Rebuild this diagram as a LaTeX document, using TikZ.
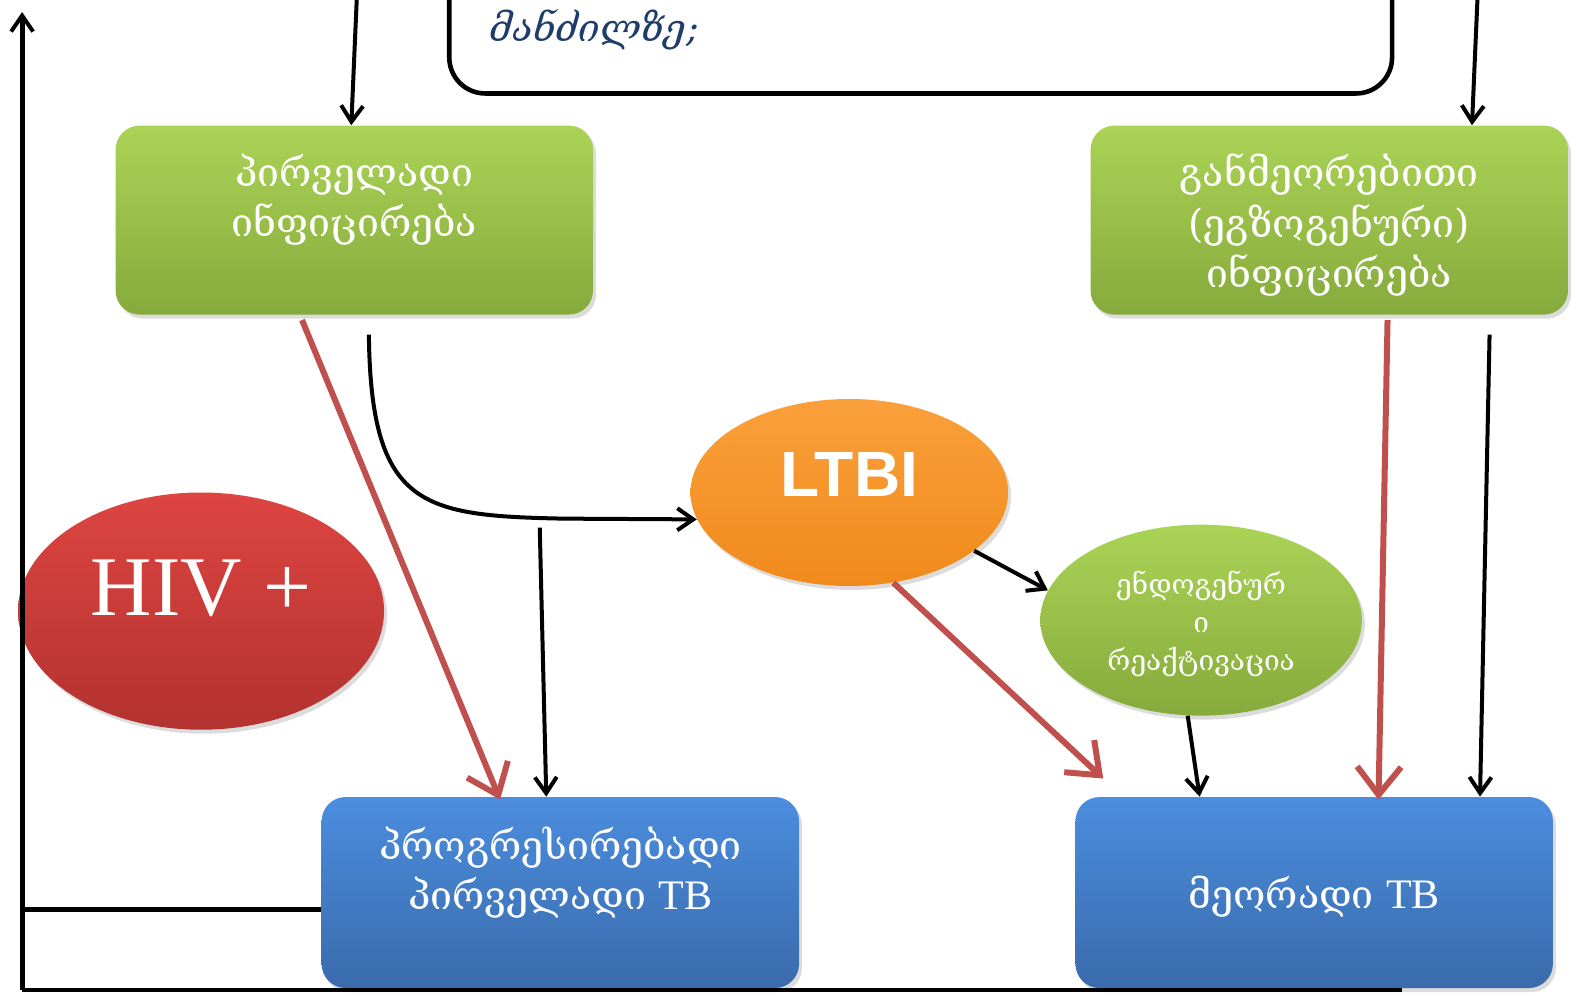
\documentclass[tikz,border=0pt]{standalone}
\usepackage{fontspec}
\setmainfont{Liberation Serif}
\newfontfamily\geo{DejaVu Serif}
\newfontfamily\arl{Liberation Sans}
\usetikzlibrary{arrows.meta,shapes.geometric,shadows,calc}
\definecolor{grT}{HTML}{ABD356}
\definecolor{grB}{HTML}{86AA3C}
\definecolor{blT}{HTML}{4B8DDE}
\definecolor{blB}{HTML}{3A6BAB}
\definecolor{rdT}{HTML}{DD4541}
\definecolor{rdB}{HTML}{B3322F}
\definecolor{orT}{HTML}{FAA03A}
\definecolor{orB}{HTML}{F08A1C}
\definecolor{redarrow}{HTML}{C0504D}
\definecolor{navytext}{HTML}{1F3D6B}
\tikzset{
  shad/.style={drop shadow={opacity=0.28,shadow xshift=1.5pt,shadow yshift=-2pt}},
  gbox/.style={rectangle,rounded corners=12pt,minimum width=238.7pt,minimum height=94.5pt,inner sep=0pt,top color=grT,bottom color=grB,shad},
  bbox/.style={rectangle,rounded corners=12pt,minimum width=238.7pt,minimum height=95.5pt,inner sep=0pt,top color=blT,bottom color=blB,shad},
  ell/.style={ellipse,inner sep=0pt,shad},
  wtext/.style={text=white,align=center,font=\geo\fontsize{19.6pt}{25.1pt}\selectfont},
  blk/.style={draw=black,line width=2pt,-{Straight Barb[length=8pt,width=11pt,line width=2pt]}},
  red/.style={draw=redarrow,line width=3pt,-{Straight Barb[length=14pt,width=22pt,line width=3pt]}},
  frame/.style={draw=black,line width=2.4pt}
}
\begin{document}
\begin{tikzpicture}[x=0.50255pt,y=-0.50255pt]
\useasboundingbox (0,0) rectangle (1568,990);
% top box (cut off)
\draw[line width=2.3pt,rounded corners=18pt] (447,-80) rectangle (1385,93);
\node[anchor=west,text=navytext,font=\geo\itshape\fontsize{19pt}{22pt}\selectfont] (toptext) at (480,30) {მანძილზე;};
% nodes
\node[gbox] (inf1) at (352.5,219) {};
\node[wtext] (inf1t) at (352.5,199) {პირველადი\\ინფიცირება};
\node[gbox] (inf2) at (1322.5,219) {};
\node[wtext] (inf2t) at (1322.5,224) {განმეორებითი\\(ეგზოგენური)\\ინფიცირება};
\node[bbox] (tb1) at (557.5,888) {};
\node[wtext] (tb1t) at (557.5,868) {პროგრესირებადი\\პირველადი {\rmfamily\fontsize{21pt}{25pt}\selectfont TB}};
\node[bbox] (tb2) at (1307.5,888) {};
\node[wtext] (tb2t) at (1307.5,892) {მეორადი {\rmfamily\fontsize{21pt}{25pt}\selectfont TB}};
\node[ell,minimum width=183pt,minimum height=118.6pt,top color=rdT,bottom color=rdB] (hiv) at (200,608) {};
\node[text=white,font=\fontsize{42.5pt}{42pt}\selectfont] (hivt) at (200,585) {HIV +};
\node[ell,minimum width=158.8pt,minimum height=93.5pt,top color=orT,bottom color=orB] (ltbi) at (845,490) {};
\node[text=white,font=\arl\bfseries\fontsize{32pt}{32pt}\selectfont] (ltbit) at (845,472) {LTBI};
\node[ell,minimum width=160.8pt,minimum height=95.5pt,top color=grT,bottom color=grB] (endo) at (1195,617) {};
\node[text=white,align=center,font=\geo\fontsize{14pt}{19pt}\selectfont] (endot) at (1195,621) {ენდოგენურ\\ი\\რეაქტივაცია};
% coordinates
\coordinate (topA) at (355,-2);
\coordinate (topB) at (1470,-2);
\coordinate (curveS) at (367,333);
\coordinate (midS) at (537,525);
\coordinate (rightS) at (1482,333);
\coordinate (fEnd) at (1395,985);
\coordinate (fCorner) at (22,985);
\coordinate (fTop) at (22,12);
\coordinate (fMid) at (22,905);
% connectors
\draw[blk] (topA) -- ($(inf1.north)+(-3,0)$);
\draw[blk] (topB) -- ($(inf2.north)+(142,0)$);
\draw[red] ($(inf1.south)+(-52,5)$) -- ($(tb1.north)+(-60,3)$);
\draw[blk] (curveS) .. controls (369,505) and (420,513) .. (560,516) -- (ltbi.190);
\draw[blk] (midS) -- ($(tb1.north)+(-14,0)$);
\draw[blk] (ltbi.-25) -- (endo.169);
\draw[red] (ltbi.-64) -- ($(tb2.north west)+(28,-18)$);
\draw[blk] (endo.-98) -- ($(tb2.north)+(-114,0)$);
\draw[red] ($(inf2.south)+(58,5)$) -- ($(tb2.north)+(64,3)$);
\draw[blk] (rightS) -- ($(tb2.north)+(165,0)$);
\draw[frame] (fEnd) -- (fCorner);
\draw[frame,-{Straight Barb[length=8pt,width=11pt,line width=2pt]}] (fCorner) -- (fTop);
\draw[frame] (tb1.west |- fMid) -- (fMid);
\end{tikzpicture}
\end{document}
